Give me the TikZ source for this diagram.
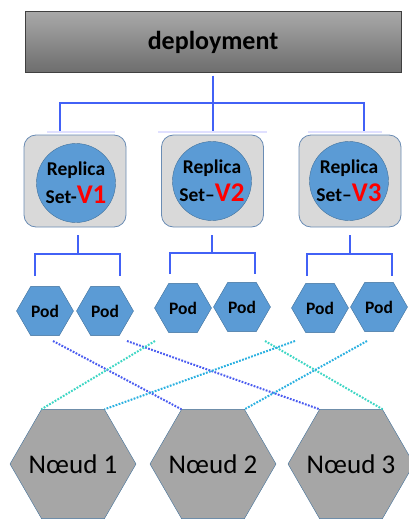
\documentclass[tikz,border=0pt]{standalone}
\usepackage{fontspec}
\setmainfont{Carlito}
\usetikzlibrary{shapes.geometric}

\definecolor{officeblue}{HTML}{5B9BD5}
\definecolor{edgeblue}{HTML}{41719C}
\definecolor{treeblue}{HTML}{4261F6}
\definecolor{dotblue}{HTML}{4A5CF0}
\definecolor{dotteal}{HTML}{3DD6C4}
\definecolor{dotcyan}{HTML}{2AB0E0}
\definecolor{boxgray}{HTML}{D9D9D9}
\definecolor{boxedge}{HTML}{6A8CB4}
\definecolor{nodegray}{HTML}{A6A6A6}

\tikzset{
  deploy/.style={draw=black!75, line width=1pt, top color=black!34, bottom color=black!57,
    minimum width=376pt, minimum height=60pt, font=\fontsize{26}{30}\selectfont\bfseries},
  rsbox/.style={draw=boxedge, fill=boxgray, rounded corners=12pt, line width=0.8pt,
    minimum width=102pt, minimum height=92pt},
  rs/.style={circle, draw=edgeblue, fill=officeblue, minimum size=79pt, inner sep=0pt,
    align=center, font=\fontsize{19.5}{28}\selectfont\bfseries},
  pod/.style={regular polygon, regular polygon sides=6, minimum size=57pt, inner sep=0pt,
    draw=edgeblue, fill=officeblue, font=\fontsize{17.5}{20}\selectfont\bfseries},
  noeud/.style={regular polygon, regular polygon sides=6, minimum size=126pt, inner sep=0pt,
    draw=edgeblue, fill=nodegray,
    label={[font=\fontsize{27}{30}\selectfont]center:#1}},
  tree/.style={draw=treeblue, line width=1.8pt},
  faint/.style={draw=blue!12, line width=1.2pt},
  link/.style={line width=2pt, dash pattern=on 1.8pt off 1.4pt},
}
\newcommand{\ver}[1]{{\color{red}\fontsize{27}{28}\selectfont #1}}

\begin{document}
\begin{tikzpicture}[x=1pt,y=-1pt]
  \useasboundingbox (0,0) rectangle (409,519);

  % deployment
  \node[deploy] (dep) at (213,42) {deployment};

  % replica sets
  \node[rsbox] (b1) at (75,181) {};
  \node[rs] (rs1) at (76,183) {Replica\\Set-\ver{V1}};
  \node[rsbox] (b2) at (212.5,181) {};
  \node[rs] (rs2) at (212,181) {Replica\\Set–\ver{V2}};
  \node[rsbox] (b3) at (350,181) {};
  \node[rs] (rs3) at (349,181) {Replica\\Set–\ver{V3}};

  % pods
  \node[pod] (p1) at (45,311) {Pod};
  \node[pod] (p2) at (105,311) {Pod};
  \node[pod] (p3) at (183,308) {Pod};
  \node[pod] (p4) at (242,307) {Pod};
  \node[pod] (p5) at (320,308) {Pod};
  \node[pod] (p6) at (379,307) {Pod};

  % noeuds
  \node[noeud={Nœud 1}] (n1) at (73,464) {};
  \node[noeud={Nœud 2}] (n2) at (213,464) {};
  \node[noeud={Nœud 3}] (n3) at (351,464) {};

  % tree from the deployment
  \coordinate (top) at (213,103);
  \coordinate (t1) at (60,133);
  \coordinate (t2) at (213,133);
  \coordinate (t3) at (364,133);
  \draw[tree] ([yshift=-3pt]dep.south) -- (t2);
  \draw[tree] (t1) |- (top) -| (t3);
  \draw[faint] (47,132) -- (115,132);
  \draw[faint] (158,132) -- (267,132);
  \draw[faint] (308,132) -- (382,132);

  % replica sets to pods
  \coordinate (j1) at (78,254);
  \coordinate (a11) at (35,276);
  \coordinate (a12) at (120,276);
  \coordinate (j2) at (212,253);
  \coordinate (a21) at (170,274);
  \coordinate (a22) at (255,274);
  \coordinate (j3) at (350,254);
  \coordinate (a31) at (307,276);
  \coordinate (a32) at (392,276);
  \draw[tree, shorten >=8pt] (j1) -- (j1 |- b1.south);
  \draw[tree] (a11) |- (j1) -| (a12);
  \draw[tree, shorten >=8pt] (j2) -- (j2 |- b2.south);
  \draw[tree] (a21) |- (j2) -| (a22);
  \draw[tree, shorten >=8pt] (j3) -- (j3 |- b3.south);
  \draw[tree] (a31) |- (j3) -| (a32);

  % pods to noeuds
  \coordinate (d1) at (53,341);
  \coordinate (d2) at (127,341);
  \coordinate (d3) at (155,341);
  \coordinate (d4) at (265,341);
  \coordinate (d5) at (295,341);
  \coordinate (d6) at (367,341);
  \draw[link, dotblue] (d1) -- (n2.120);
  \draw[link, dotblue] (d2) -- (n3.120);
  \draw[link, dotteal] (d3) -- (n1.120);
  \draw[link, dotteal] (d4) -- (n3.60);
  \draw[link, dotcyan] (d5) -- (n1.60);
  \draw[link, dotcyan] (d6) -- (n2.60);
\end{tikzpicture}
\end{document}
